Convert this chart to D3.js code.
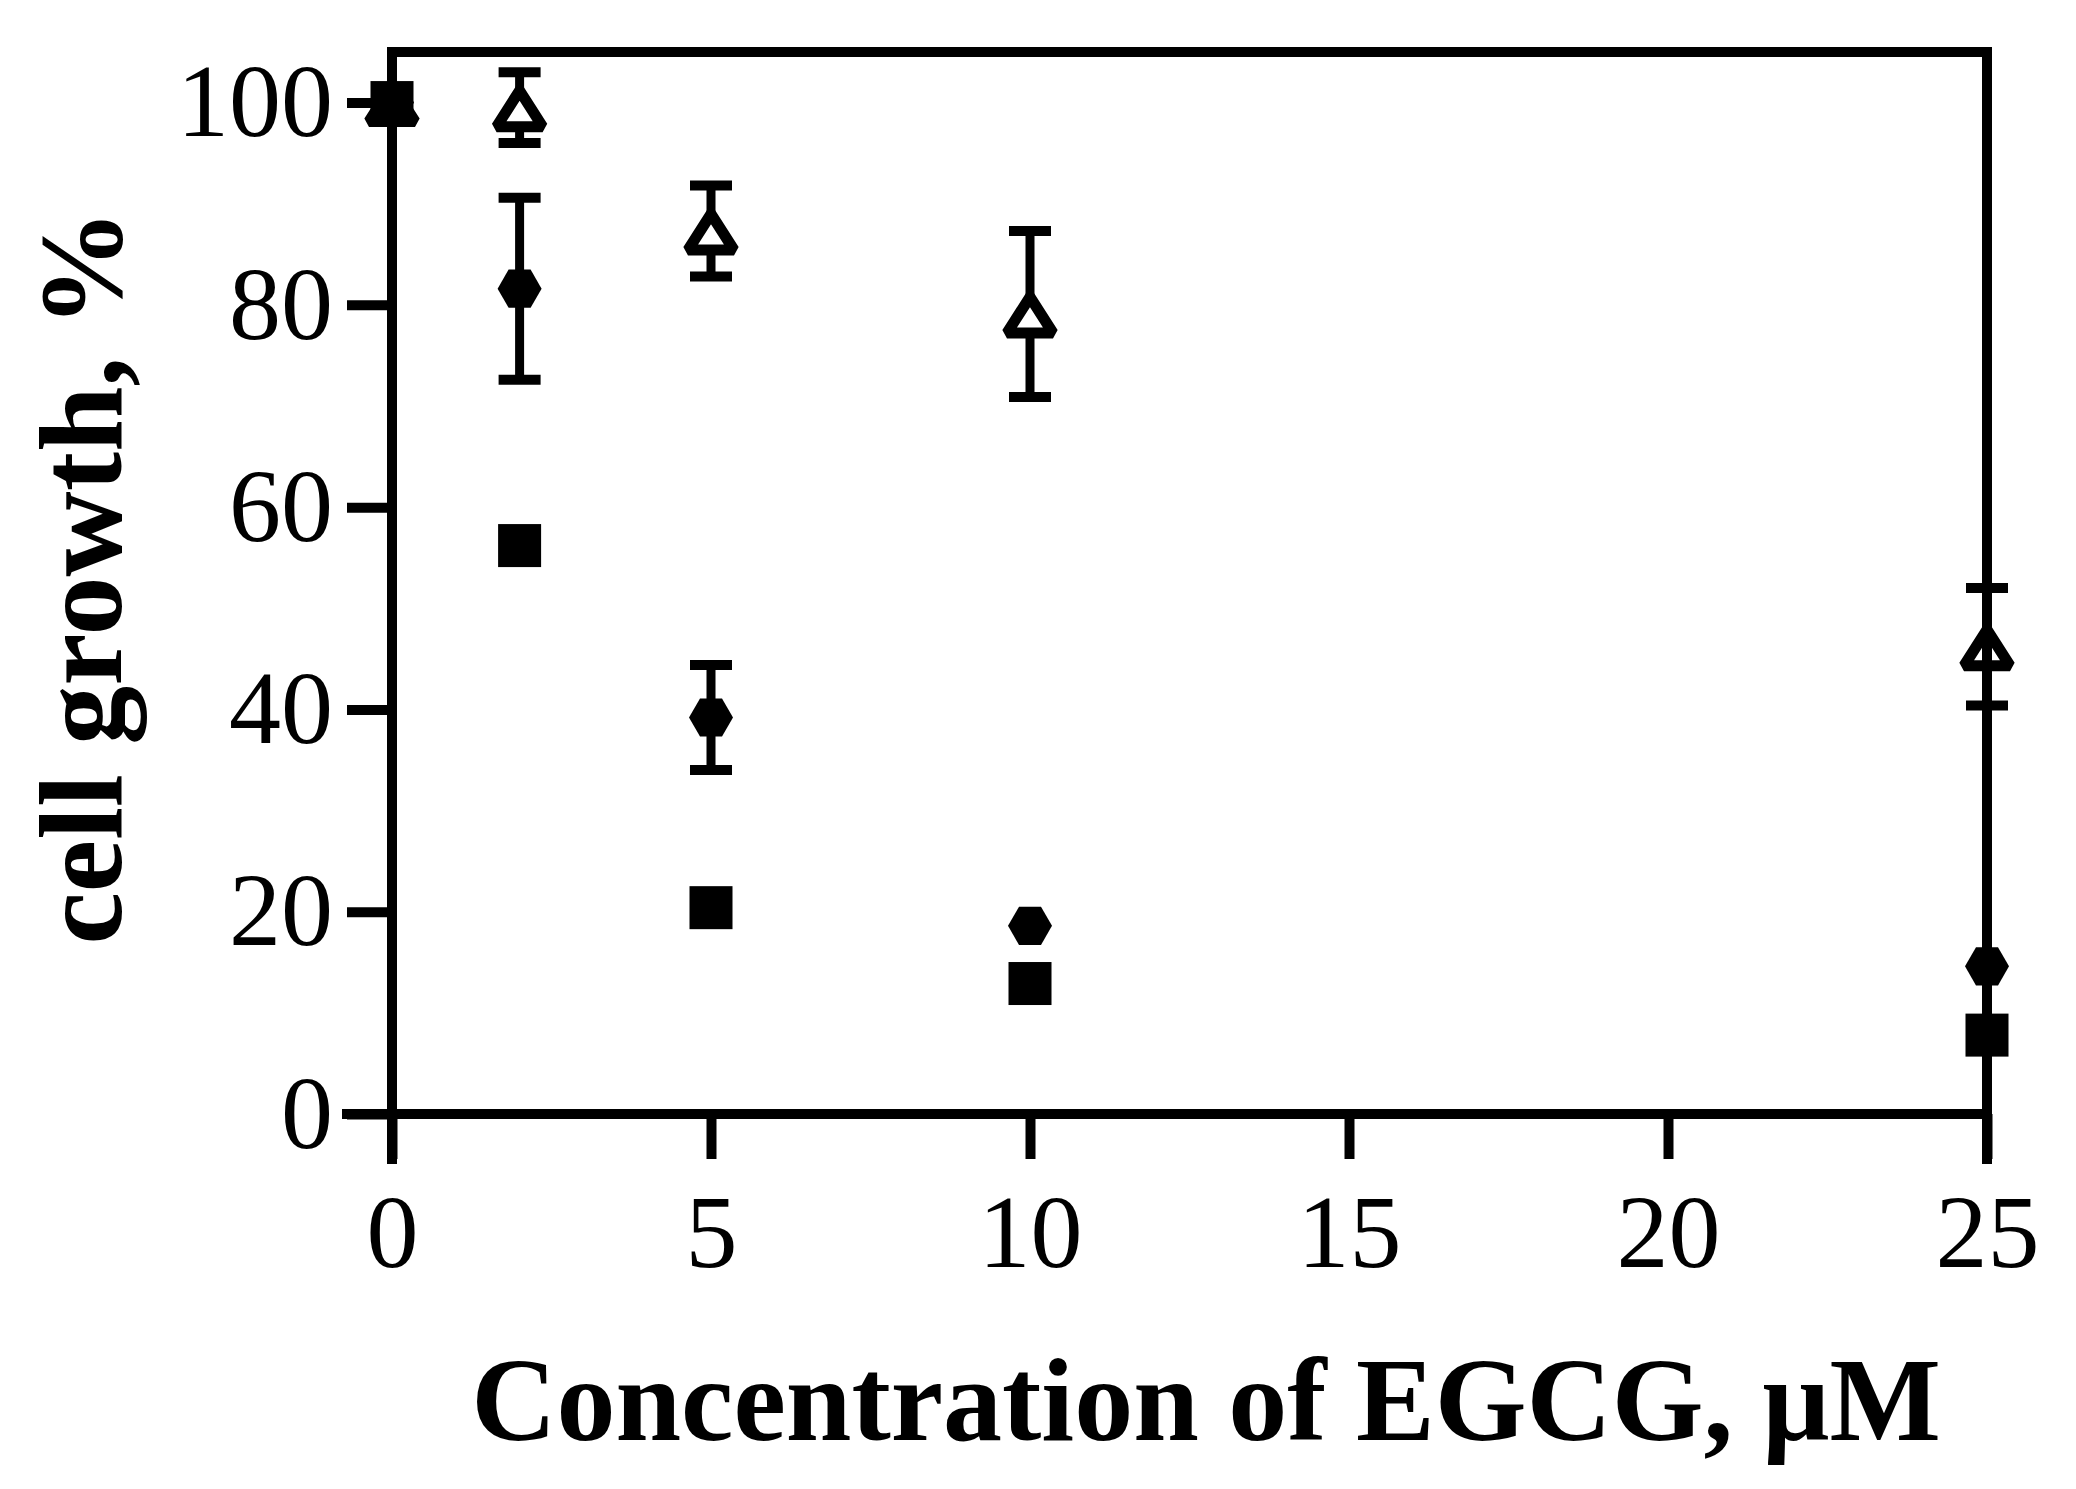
<!DOCTYPE html>
<html>
<head>
<meta charset="utf-8">
<script src="https://cdn.jsdelivr.net/npm/d3@7"></script>
<style>
  body { margin: 0; background: #fff; }
  text { font-family: "Liberation Serif", "Times New Roman", serif; }
</style>
</head>
<body>
<div id="chart"></div>
<script>
// Cell growth vs EGCG concentration

const concentrations = [0, 2, 5, 10, 25];

// filled squares
const squareMeans = [100, 56.2, 20.4, 12.9, 7.8];

// filled hexagons
const hexagonMeans = [100, 81.6, 39.2, 18.6, 14.6];
const hexagonErrors = [0, 9.0, 5.2, 0, 0];

// open triangles
const triangleMeans = [100, 99.5, 87.3, 79.1, 46.2];
const triangleErrors = [0, 3.5, 4.5, 8.2, 5.8];

const xTicks = [0, 5, 10, 15, 20, 25];
const yTicks = [0, 20, 40, 60, 80, 100];

const xTitle = 'Concentration of EGCG, \u03bcM';
const yTitle = 'cell growth, %';

const width = 2076;
const height = 1489;

const svg = d3.select('#chart')
  .append('svg')
  .attr('width', width)
  .attr('height', height);

// Escalas
const x = d3.scaleLinear().domain([0, 25]).range([392, 1987]);
const y = d3.scaleLinear().domain([0, 105]).range([1114, 52]);

const toPoints = (means, errors) => concentrations.map((c, i) => ({
  x: c,
  y: means[i],
  err: errors ? errors[i] : 0
}));

const squares = toPoints(squareMeans);
const hexagons = toPoints(hexagonMeans, hexagonErrors);
const triangles = toPoints(triangleMeans, triangleErrors);

// Error bars (drawn under the markers)
function drawErrors(data) {
  const g = svg.append('g').attr('stroke', '#000');
  const withErr = data.filter(d => d.err > 0);
  g.selectAll('line.bar')
    .data(withErr)
    .enter().append('line')
    .attr('x1', d => x(d.x)).attr('x2', d => x(d.x))
    .attr('y1', d => y(d.y + d.err)).attr('y2', d => y(d.y - d.err))
    .attr('stroke-width', 9);
  [1, -1].forEach(sign => {
    g.selectAll(null)
      .data(withErr)
      .enter().append('line')
      .attr('x1', d => x(d.x) - 21).attr('x2', d => x(d.x) + 21)
      .attr('y1', d => y(d.y + sign * d.err)).attr('y2', d => y(d.y + sign * d.err))
      .attr('stroke-width', 10);
  });
}

drawErrors(triangles);
drawErrors(hexagons);

// Markers
const trianglePath = 'M0,-17L23,19L-23,19Z';
const hexagonPath = d3.range(6).map(k => {
  const a = k * Math.PI / 3;
  return (k ? 'L' : 'M') + (22 * Math.cos(a)).toFixed(2) + ',' + (22 * Math.sin(a)).toFixed(2);
}).join('') + 'Z';

svg.append('g').selectAll('path')
  .data(triangles)
  .enter().append('path')
  .attr('d', trianglePath)
  .attr('transform', d => `translate(${x(d.x)},${y(d.y)})`)
  .attr('fill', '#fff')
  .attr('stroke', '#000')
  .attr('stroke-width', 11)
  .attr('stroke-linejoin', 'miter')
  .attr('stroke-miterlimit', 2);

svg.append('g').selectAll('path')
  .data(hexagons)
  .enter().append('path')
  .attr('d', hexagonPath)
  .attr('transform', d => `translate(${x(d.x)},${y(d.y)})`)
  .attr('fill', '#000');

svg.append('g').selectAll('rect')
  .data(squares)
  .enter().append('rect')
  .attr('x', d => x(d.x) - 21.5)
  .attr('y', d => y(d.y) - 21.5)
  .attr('width', 43)
  .attr('height', 43)
  .attr('fill', '#000');

// Frame (top and right)
svg.append('path')
  .attr('d', `M${x(0)},${y(105)}H${x(25)}V${y(0) + 45}`)
  .attr('fill', 'none')
  .attr('stroke', '#000')
  .attr('stroke-width', 10)
  .attr('stroke-linecap', 'square');

// Eixos
const yAxis = svg.append('g')
  .attr('transform', `translate(${x(0)},0)`)
  .call(d3.axisLeft(y).tickValues(yTicks).tickSize(45).tickSizeOuter(0).tickPadding(14));

const xAxis = svg.append('g')
  .attr('transform', `translate(0,${y(0)})`)
  .call(d3.axisBottom(x).tickValues(xTicks).tickSize(45).tickSizeOuter(0).tickPadding(34));

[xAxis, yAxis].forEach(ax => {
  ax.select('.domain').attr('stroke-width', 10).attr('stroke-linecap', 'square');
  ax.selectAll('.tick line').attr('stroke-width', 10);
  ax.selectAll('.tick text')
    .style('font-family', '"Liberation Serif", "Times New Roman", serif')
    .style('font-size', '104px')
    .attr('fill', '#000');
});
yAxis.select('.domain').attr('d', `M0,${y(105)}V${y(0) + 45}`);
xAxis.select('.domain').attr('d', `M${x(0) - 45},0H${x(25)}`);

// Titles
svg.append('text')
  .attr('x', 1206)
  .attr('y', 1440)
  .attr('text-anchor', 'middle')
  .style('font-size', '118px')
  .style('font-weight', 'bold')
  .text(xTitle);

svg.append('text')
  .attr('transform', 'translate(121,577) rotate(-90)')
  .attr('text-anchor', 'middle')
  .style('font-size', '118px')
  .style('font-weight', 'bold')
  .text(yTitle);
</script>
</body>
</html>
